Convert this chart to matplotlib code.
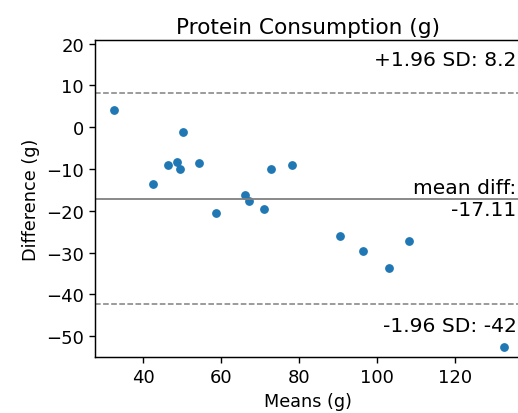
import numpy as np
import matplotlib
matplotlib.use("Agg")
import matplotlib.pyplot as plt

# means and differences
means = [32.6, 50.2, 42.5, 46.4, 48.8, 49.4, 54.3, 58.8, 66.2, 67.3,
         70.9, 72.9, 78.1, 90.4, 96.3, 103.0, 108.1, 132.6]
diffs = [4.0, -1.2, -13.7, -9.1, -8.3, -10.1, -8.6, -20.6, -16.2, -17.6,
         -19.6, -10.1, -9.1, -26.0, -29.6, -33.6, -27.3, -52.5]

mean_diff = -17.11
std_diff = 12.91
sd_limit = 1.96

upper = mean_diff + sd_limit * std_diff
lower = mean_diff - sd_limit * std_diff

fig = plt.figure(figsize=(5.18, 4.14), dpi=100)
ax = fig.add_axes([95 / 518, 1 - 358.3 / 414, 426 / 518, (358.3 - 41) / 414])

ax.scatter(means, diffs, s=28, color="#1f77b4")
ax.axhline(mean_diff, color="gray", linewidth=1.3)
ax.axhline(upper, color="gray", linewidth=1.1, linestyle="--")
ax.axhline(lower, color="gray", linewidth=1.1, linestyle="--")

ax.annotate("mean diff:\n{}".format(np.round(mean_diff, 2)), xy=(0.99, 0.5),
            ha="right", va="center", fontsize=14.6, xycoords="axes fraction")
ax.annotate("-{} SD: {:0.2g}".format(sd_limit, lower), xy=(0.99, 0.07),
            ha="right", va="bottom", fontsize=14.6, xycoords="axes fraction")
ax.annotate("+{} SD: {:0.2g}".format(sd_limit, upper), xy=(0.99, 0.92),
            ha="right", fontsize=14.6, xycoords="axes fraction")

half_ylim = 1.5 * sd_limit * std_diff
ax.set_ylim(mean_diff - half_ylim, mean_diff + half_ylim)
ax.set_xlim(27.7, 136.9)

ax.set_title("Protein Consumption (g)", fontsize=15.6, pad=5)
ax.set_xlabel("Means (g)", fontsize=12.7)
ax.set_ylabel("Difference (g)", fontsize=12.7)
ax.tick_params(labelsize=13, width=1.0, length=4.5)
for sp in ax.spines.values():
    sp.set_linewidth(1.05)

fig.savefig("out.png", dpi=100)
